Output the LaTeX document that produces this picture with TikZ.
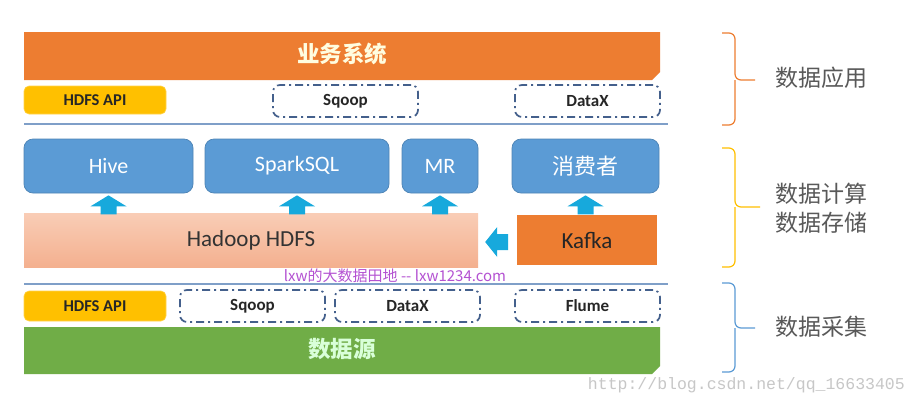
\documentclass[tikz,border=0pt]{standalone}
\usepackage{fontspec}
\setmainfont{Carlito}
\newfontfamily\cjk{Noto Sans CJK SC}
\newfontfamily\monof{Liberation Mono}
\usetikzlibrary{calc}
\definecolor{bizorange}{HTML}{ED7D31}
\definecolor{apiyellow}{HTML}{FFC000}
\definecolor{boxblue}{HTML}{5B9BD5}
\definecolor{hdfstop}{HTML}{F9CDB6}
\definecolor{hdfsbot}{HTML}{F4B08F}
\definecolor{srcgreen}{HTML}{70AD47}
\definecolor{arrowc}{HTML}{17A9DC}
\definecolor{dashc}{HTML}{44608C}
\definecolor{sepline}{HTML}{7F9FC8}
\definecolor{lblgray}{HTML}{595959}
\definecolor{wmark}{HTML}{B452D2}
\tikzset{
  apibox/.style={rectangle, rounded corners=5pt, fill=apiyellow, draw=apiyellow!70!white, line width=0.6pt,
    minimum width=142pt, inner sep=0pt, font=\bfseries\fontsize{16.5}{19}\selectfont, text=black!85},
  toolbox/.style={rectangle, rounded corners=7pt, draw=dashc, line width=1.7pt,
    dash pattern=on 8pt off 4pt on 2pt off 4pt, minimum width=145pt, minimum height=32pt, inner sep=0pt,
    font=\bfseries\fontsize{17}{20}\selectfont, text=black!85},
  bluebox/.style={rectangle, rounded corners=9pt, fill=boxblue, draw=boxblue!85!black, line width=0.7pt,
    minimum height=54pt, inner sep=0pt, text=white, font=\fontsize{22}{26}\selectfont},
  bartext/.style={inner sep=0pt, text=white!88!yellow, font=\cjk\bfseries\fontsize{22.5}{26}\selectfont},
  sideLabel/.style={anchor=west, inner sep=0pt, text=lblgray, font=\cjk\fontsize{23}{29}\selectfont, align=left},
  blockarrow/.style={fill=arrowc},
  sep/.style={draw=sepline, line width=1.3pt},
  brace/.style={line width=1.2pt, rounded corners=6pt}
}
\begin{document}
\begin{tikzpicture}[x=1pt,y=-1pt]
\useasboundingbox (0,0) rectangle (918,405);
\fill[white] (0,0) rectangle (918,405);

% ---- top: business system ----
\fill[bizorange] (24,32) -- (660,32) -- (660,72) -- (652,80) -- (24,80) -- cycle;
\node[bartext] (biz) at (342,54) {业务系统};

\node[apibox, minimum height=28pt] (api1) at (95,100) {HDFS API};
\node[toolbox] (sqoop1) at (345.5,101) {Sqoop};
\node[toolbox] (datax1) at (587.5,101) {DataX};

\coordinate (s1a) at (24,124);
\coordinate (s1b) at (668,124);
\draw[sep] (s1a) -- (s1b);

% ---- middle: compute / storage ----
\node[bluebox, minimum width=169pt] (hive) at (108.5,166) {Hive};
\node[bluebox, minimum width=184pt] (spark) at (297,166) {SparkSQL};
\node[bluebox, minimum width=76pt] (mr) at (440,166) {MR};
\node[bluebox, minimum width=147pt, font=\cjk\fontsize{22}{26}\selectfont] (cons) at (585.5,166) {消费者};

\node[rectangle, top color=hdfstop, bottom color=hdfsbot, minimum width=454pt, minimum height=54pt, inner sep=0pt,
  text=black!80, font=\fontsize{23}{27}\selectfont] (hdfs) at (251,240) {Hadoop HDFS};
\node[rectangle, fill=bizorange, minimum width=140pt, minimum height=50pt, inner sep=0pt,
  text=black!85, font=\fontsize{23}{27}\selectfont] (kafka) at (587,240) {Kafka};

% up arrows
\foreach \b in {hive,spark,mr,cons}{
  \fill[blockarrow] ($(\b.south)+(0,2)$) -- ++(18,11) -- ++(-10,0) -- ++(0,8) -- ++(-16,0) -- ++(0,-8) -- ++(-10,0) -- cycle;
}
% left arrow Kafka -> HDFS
\fill[blockarrow] ($(hdfs.east)+(7,2)$) -- ++(12,-15) -- ++(0,7) -- ++(11,0) -- ++(0,16) -- ++(-11,0) -- ++(0,7) -- cycle;

\node[inner sep=0pt, text=wmark, font=\cjk\fontsize{15}{17}\selectfont] (wm) at (395,276) {lxw的大数据田地 -- lxw1234.com};

\coordinate (s2a) at (24,284);
\coordinate (s2b) at (668,284);
\draw[sep] (s2a) -- (s2b);

% ---- bottom: collection ----
\node[apibox, minimum height=30pt] (api2) at (95,306) {HDFS API};
\node[toolbox] (sqoop2) at (252.5,306) {Sqoop};
\node[toolbox] (datax2) at (407.5,306) {DataX};
\node[toolbox] (flume) at (587.5,306) {Flume};

\fill[srcgreen] (24,327) -- (660,327) -- (660,366) -- (652,374) -- (24,374) -- cycle;
\node[bartext, text=white!85!green] (src) at (342,349) {数据源};

% ---- braces and labels ----
\draw[brace, draw=bizorange] (722,33) -| (735,80) -- (755,80);
\draw[brace, draw=bizorange] (722,125) -| (735,80);
\node[sideLabel] (l1) at (775,78) {数据应用};

\draw[brace, draw=apiyellow] (722,148) -| (735,207) -- (760,207);
\draw[brace, draw=apiyellow] (722,267) -| (735,207);
\node[sideLabel] (l2) at (775,208.5) {数据计算\\数据存储};

\draw[brace, draw=boxblue] (722,283) -| (735,328) -- (755,328);
\draw[brace, draw=boxblue] (722,372) -| (735,328);
\node[sideLabel] (l3) at (775,327) {数据采集};

\node[anchor=east, inner sep=0pt, text=black!22, font=\monof\fontsize{16.5}{18}\selectfont] (csdn) at (905,385) {http://blog.csdn.net/qq\_16633405};
\end{tikzpicture}
\end{document}
